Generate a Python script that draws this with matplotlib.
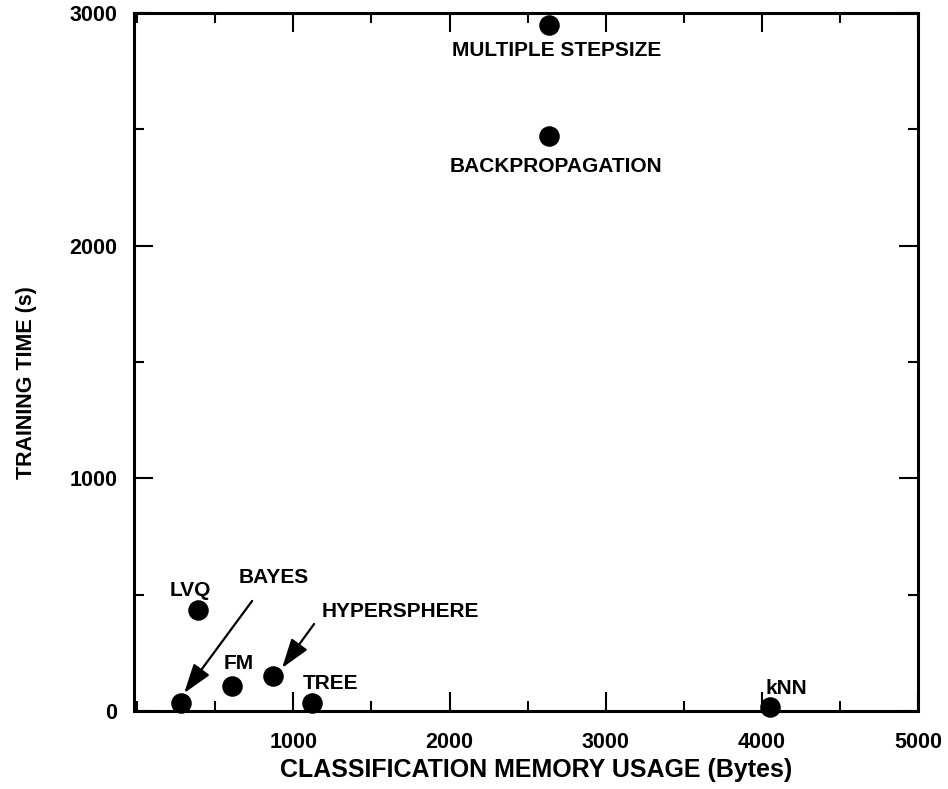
import numpy as np
import matplotlib.pyplot as plt
from matplotlib.ticker import MultipleLocator

plt.rcParams['font.family'] = ['Liberation Sans', 'DejaVu Sans']
plt.rcParams['font.weight'] = 'bold'

# Data
methods = ["MULTIPLE STEPSIZE", "BACKPROPAGATION", "LVQ", "BAYES", "FM",
           "HYPERSPHERE", "TREE", "kNN"]
memory = [2640, 2640, 390, 282, 608, 870, 1120, 4052]
train_time = [2950, 2470, 433, 34, 107, 150, 34, 17]

x_ticks = [1000, 2000, 3000, 4000, 5000]
y_ticks = [0, 1000, 2000, 3000]

fig = plt.figure(figsize=(9.48, 7.89), dpi=100)
ax = fig.add_axes([0.1414, 0.0989, 0.8270, 0.8846])

ax.scatter(memory, train_time, s=190, color='black', zorder=3, clip_on=False)

# label centres in data units
label_pos = {
    "MULTIPLE STEPSIZE": (2689, 2841),
    "BACKPROPAGATION": (2682, 2342),
    "LVQ": (339, 516),
    "BAYES": (877, 572),
    "FM": (647, 206),
    "HYPERSPHERE": (1684, 426),
    "TREE": (1236, 116),
    "kNN": (4155, 95),
}
for name in methods:
    lx, ly = label_pos[name]
    ax.text(lx, ly, name, ha='center', va='center', fontsize=15,
            fontweight='bold')

# arrows pointing at BAYES and HYPERSPHERE
arrow_kw = dict(arrowstyle='-|>,head_length=0.9,head_width=0.3',
                color='black', lw=1.6, mutation_scale=20,
                shrinkA=0, shrinkB=0)
ax.annotate("", xy=(301, 77), xytext=(736, 473), arrowprops=arrow_kw)
ax.annotate("", xy=(928, 185), xytext=(1133, 374), arrowprops=arrow_kw)

ax.set_xlim(-20, 5000)
ax.set_ylim(0, 3000)
ax.set_xticks(x_ticks)
ax.set_yticks(y_ticks)
ax.xaxis.set_minor_locator(MultipleLocator(500))
ax.yaxis.set_minor_locator(MultipleLocator(500))
ax.tick_params(which='both', direction='in', top=True, right=True,
               width=1.5, labelsize=15.5)
ax.tick_params(which='major', length=14)
ax.tick_params(which='minor', length=7)
ax.tick_params(axis='x', pad=15)
ax.tick_params(axis='y', pad=12)
for lab in ax.get_xticklabels() + ax.get_yticklabels():
    lab.set_fontweight('bold')
for sp in ax.spines.values():
    sp.set_linewidth(2.2)

ax.set_xlabel("CLASSIFICATION MEMORY USAGE (Bytes)", fontsize=18,
              fontweight='bold')
ax.set_ylabel("TRAINING TIME (s)", fontsize=15.5, fontweight='bold')
ax.xaxis.set_label_coords(0.513, -0.067)
ax.yaxis.set_label_coords(-0.124, 0.470)

plt.savefig('out.png', dpi=100)
